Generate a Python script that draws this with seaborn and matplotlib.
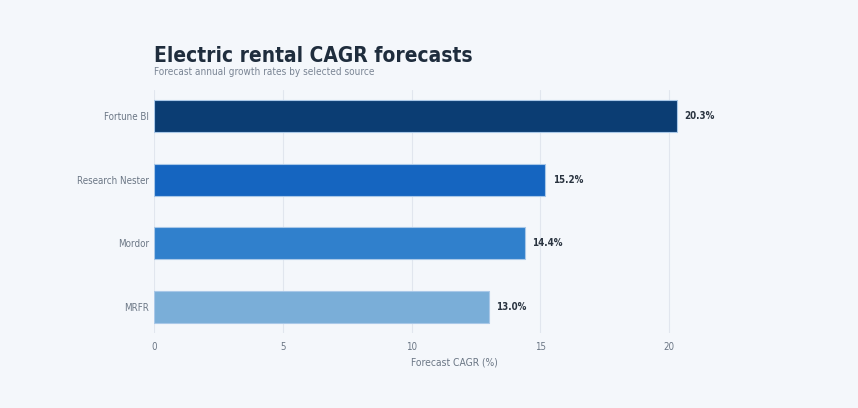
import numpy as np
import pandas as pd
import seaborn as sns
from matplotlib import pyplot as plt
from matplotlib import font_manager as fm

sources = ['Fortune BI', 'Research Nester', 'Mordor', 'MRFR']
cagr = [20.3, 15.2, 14.4, 13.0]
bar_colors = ['#0b3d73', '#1565c0', '#3080cc', '#7aaed8']

bg = '#f4f7fb'
sns.set_theme(style='white')
plt.rcParams['font.family'] = ['DejaVu Sans']


def cond_font(bold=False):
    fname = 'DejaVuSansCondensed-Bold.ttf' if bold else 'DejaVuSansCondensed.ttf'
    for f in fm.fontManager.ttflist:
        if f.fname.endswith('/' + fname):
            return f.fname
    return None


reg_path = cond_font(False)
bold_path = cond_font(True)


def fp(size, bold=False):
    path = bold_path if bold else reg_path
    if path:
        return fm.FontProperties(fname=path, size=size)
    return fm.FontProperties(family='DejaVu Sans', size=size, weight='bold' if bold else 'normal')


df = pd.DataFrame({'source': sources, 'cagr': cagr})

fig = plt.figure(figsize=(8.58, 4.08), dpi=100, facecolor=bg)
ax = fig.add_axes([154/858, 1-333/408, (754-154)/858, 243/408])
ax.set_facecolor(bg)

sns.barplot(data=df, x='cagr', y='source', hue='source', palette=bar_colors,
            saturation=1, width=0.5, legend=False, ax=ax,
            edgecolor='#a9c8e8', linewidth=0.8)

ax.set_xlim(0, 23.3)
ax.set_ylim(3.4, -0.4)
ax.set_xticks([0, 5, 10, 15, 20])
ax.xaxis.grid(True, color='#e1e6ee', linewidth=0.8)
ax.set_axisbelow(True)
for s in ax.spines.values():
    s.set_visible(False)

ax.tick_params(axis='both', length=0, colors='#6b7785')
ax.tick_params(axis='x', pad=6.5)
ax.tick_params(axis='y', pad=3.5)
for lab in ax.get_xticklabels() + ax.get_yticklabels():
    lab.set_fontproperties(fp(7))
ax.set_ylabel('')
ax.set_xlabel('Forecast CAGR (%)', color='#6b7785', fontproperties=fp(7.4), labelpad=4)

for i, v in enumerate(cagr):
    ax.text(v + 0.3, i, f'{v:.1f}%', va='center', ha='left',
            fontproperties=fp(7, bold=True), color='#2a3440')

fig.text(154/858, 1-56/408, 'Electric rental CAGR forecasts', fontproperties=fp(15, bold=True),
         color='#1f2d3d', va='center', ha='left')
fig.text(154/858, 1-72/408, 'Forecast annual growth rates by selected source', fontproperties=fp(7.2),
         color='#7a8594', va='center', ha='left')

fig.savefig('out.png', dpi=100, facecolor=bg)
